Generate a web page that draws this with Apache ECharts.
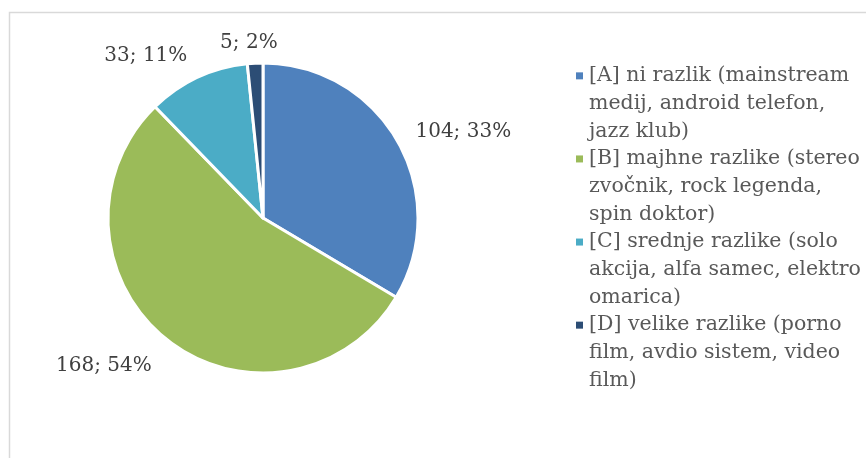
<!DOCTYPE html>
<html>
<head>
<meta charset="utf-8">
<script src="https://cdn.jsdelivr.net/npm/echarts@6/dist/echarts.min.js"></script>
<style>
  html, body { margin: 0; padding: 0; background: #fff; }
  #main { width: 866px; height: 458px; }
</style>
</head>
<body>
<div id="main"></div>
<script>
var categories = [
    '[A] ni razlik (mainstream\nmedij, android telefon,\njazz klub)',
    '[B] majhne razlike (stereo\nzvočnik, rock legenda,\nspin doktor)',
    '[C] srednje razlike (solo\nakcija, alfa samec, elektro\nomarica)',
    '[D] velike razlike (porno\nfilm, avdio sistem, video\nfilm)'
];
var values = [104, 168, 33, 5];
var colors = ['#4F81BD', '#9BBB59', '#4BACC6', '#2C4D75'];

var serif = '"DejaVu Serif", "Liberation Serif", serif';

function loadChart() {
    var myChart = echarts.init(document.getElementById('main'));

    // legend: small square on the first line only, other lines indented
    var rich = {
        t: { fontFamily: serif, fontSize: 20.5, color: '#595959', lineHeight: 27.7 },
        g: { width: 6 },
        s: { width: 13 }
    };
    for (var i = 0; i < colors.length; i++) {
        rich['m' + i] = { width: 7, height: 7, backgroundColor: colors[i] };
    }

    var data = [];
    for (var j = 0; j < values.length; j++) {
        data.push({ name: categories[j], value: values[j], itemStyle: { color: colors[j] } });
    }

    // nudge the outside labels where Excel puts them
    var nudge = [[0, -5], [0, 18], [3, -13], [32, -10]];

    var option = {
        animation: false,
        graphic: [{
            type: 'rect',
            left: 7, top: 10,
            shape: { width: 900, height: 500 },
            style: { fill: 'none', stroke: '#D9D9D9', lineWidth: 1.5 }
        }],
        legend: {
            orient: 'vertical',
            left: 565,
            top: 57,
            icon: 'none',
            itemWidth: 1,
            itemGap: 0,
            data: categories,
            formatter: function (name) {
                var idx = categories.indexOf(name);
                return name.split('\n').map(function (line, k) {
                    return (k === 0 ? '{m' + idx + '|}{g|}' : '{s|}') + '{t|' + line + '}';
                }).join('\n');
            },
            textStyle: { rich: rich, lineHeight: 27.7 }
        },
        series: [
            {
                type: 'pie',
                center: [263, 218],
                radius: [0, 155],
                startAngle: 90,
                clockwise: true,
                percentPrecision: 0,
                avoidLabelOverlap: false,
                itemStyle: { borderColor: '#fff', borderWidth: 3 },
                label: {
                    show: true,
                    position: 'outside',
                    formatter: '{c}; {d}%',
                    fontFamily: serif,
                    fontSize: 20,
                    color: '#404040'
                },
                labelLine: { show: false, length: 10, length2: 4 },
                labelLayout: function (p) {
                    var n = nudge[p.dataIndex];
                    return { dx: n[0], dy: n[1] };
                },
                emphasis: { disabled: true },
                data: data
            }
        ]
    };
    myChart.setOption(option);
}
loadChart();
</script>
</body>
</html>
